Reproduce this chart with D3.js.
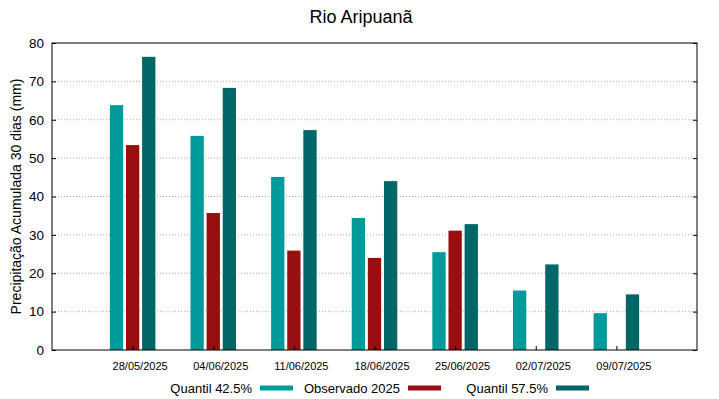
<!DOCTYPE html>
<html>
<head>
<meta charset="utf-8">
<script src="https://cdn.jsdelivr.net/npm/d3@7"></script>
<style>
  html, body { margin: 0; padding: 0; background: #fff; }
  svg { display: block; font-family: "Liberation Sans", Arial, sans-serif; }
</style>
</head>
<body>
<div id="chart"></div>
<script>
const dates = ['28/05/2025', '04/06/2025', '11/06/2025', '18/06/2025', '25/06/2025', '02/07/2025', '09/07/2025'];
const q425 = [63.8, 55.8, 45.1, 34.4, 25.5, 15.5, 9.6];
const obs2025 = [53.4, 35.7, 25.9, 24.0, 31.1, null, null];
const q575 = [76.4, 68.3, 57.3, 44.0, 32.8, 22.3, 14.5];
const yTicks = [0, 10, 20, 30, 40, 50, 60, 70, 80];

const series = [
  { name: 'Quantil 42.5%', values: q425, color: '#009a9a', off: -1 },
  { name: 'Observado 2025', values: obs2025, color: '#990f0f', off: 0 },
  { name: 'Quantil 57.5%', values: q575, color: '#006666', off: 1 }
];

const width = 719, height = 399;
const m = { left: 52, right: 22, top: 43, bottom: 49 };

const svg = d3.select('#chart').append('svg')
  .attr('width', width)
  .attr('height', height);

const x = d3.scalePoint()
  .domain(dates)
  .range([m.left, width - m.right])
  .padding(1);

const y = d3.scaleLinear()
  .domain([0, 80])
  .range([height - m.bottom, m.top]);

const step = x.step();
const barW = step * 0.165;
const barOff = step * 0.2;

// grid
svg.append('g')
  .selectAll('line')
  .data(yTicks.filter(d => d > 0 && d < 80))
  .join('line')
  .attr('x1', m.left)
  .attr('x2', width - m.right)
  .attr('y1', d => y(d))
  .attr('y2', d => y(d))
  .attr('stroke', '#a8a8a8')
  .attr('stroke-width', 1)
  .attr('stroke-dasharray', '1,2');

// bars
series.forEach(s => {
  svg.append('g')
    .selectAll('rect')
    .data(dates.map((d, i) => ({ date: d, v: s.values[i] })).filter(d => d.v != null))
    .join('rect')
    .attr('x', d => x(d.date) + s.off * barOff - barW / 2)
    .attr('y', d => y(d.v))
    .attr('width', barW)
    .attr('height', d => y(0) - y(d.v))
    .attr('fill', s.color);
});

// axes
const yAxis = svg.append('g')
  .attr('transform', `translate(${m.left},0)`)
  .call(d3.axisLeft(y).tickValues(yTicks).tickSize(-4).tickPadding(8));
yAxis.select('.domain').remove();
yAxis.selectAll('text').attr('font-size', 13.5).attr('fill', '#000').attr('font-family', 'Liberation Sans, Arial, sans-serif');

const yAxisR = svg.append('g')
  .attr('transform', `translate(${width - m.right},0)`)
  .call(d3.axisRight(y).tickValues(yTicks).tickSize(-4).tickFormat(''));
yAxisR.select('.domain').remove();

const xAxis = svg.append('g')
  .attr('transform', `translate(0,${height - m.bottom})`)
  .call(d3.axisBottom(x).tickSize(-4).tickPadding(12));
xAxis.select('.domain').remove();
xAxis.selectAll('text')
  .attr('font-size', 11)
  .attr('fill', '#000')
  .attr('dx', 7)
  .attr('font-family', 'Liberation Sans, Arial, sans-serif');

svg.selectAll('.tick line').attr('stroke', '#000');

// frame
svg.append('rect')
  .attr('x', m.left)
  .attr('y', m.top)
  .attr('width', width - m.left - m.right)
  .attr('height', height - m.top - m.bottom)
  .attr('fill', 'none')
  .attr('stroke', '#000')
  .attr('stroke-width', 1);

// title
svg.append('text')
  .attr('x', 361)
  .attr('y', 23)
  .attr('text-anchor', 'middle')
  .attr('font-size', 18)
  .text('Rio Aripuanã');

// y label
svg.append('text')
  .attr('transform', `translate(21,${(m.top + height - m.bottom) / 2}) rotate(-90)`)
  .attr('text-anchor', 'middle')
  .attr('font-size', 14)
  .text('Precipitação Acumulada 30 dias (mm)');

// legend
const legend = svg.append('g').attr('transform', 'translate(0,388)');
series.forEach((s, i) => {
  const sx = 260 + i * 148;
  legend.append('text')
    .attr('x', sx - 8)
    .attr('y', 4.5)
    .attr('text-anchor', 'end')
    .attr('font-size', 13)
    .text(s.name);
  legend.append('rect')
    .attr('x', sx)
    .attr('y', -2.5)
    .attr('width', 33)
    .attr('height', 5)
    .attr('fill', s.color);
});
</script>
</body>
</html>
